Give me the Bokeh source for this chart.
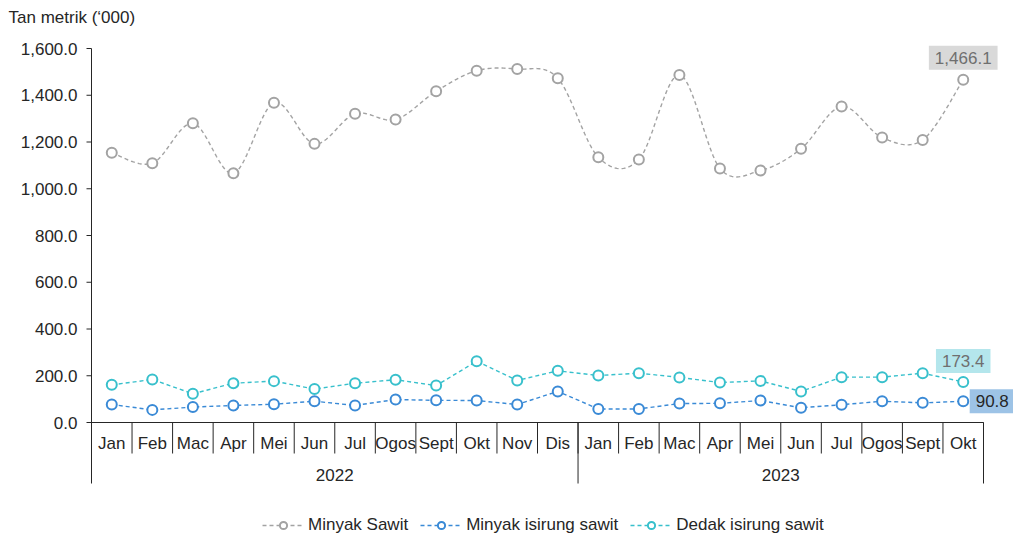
import numpy as np
from bokeh.plotting import figure
from bokeh.models import Range1d, Label, Legend, LegendItem
from bokeh.core.properties import value
from bokeh.embed import file_html
from bokeh.resources import INLINE

# ---------------- data ----------------
months = ["Jan", "Feb", "Mac", "Apr", "Mei", "Jun", "Jul", "Ogos", "Sept", "Okt", "Nov", "Dis",
          "Jan", "Feb", "Mac", "Apr", "Mei", "Jun", "Jul", "Ogos", "Sept", "Okt"]
years = ["2022", "2023"]
year_counts = [12, 10]
minyak_sawit = [1154, 1109, 1280, 1066, 1368, 1192, 1321, 1296, 1417, 1505, 1512, 1473,
                1135, 1125, 1487, 1087, 1078, 1171, 1352, 1219, 1209, 1466.1]
minyak_isirung = [77, 54, 66, 73, 78, 91, 73, 98, 95, 94, 77, 133,
                  58, 58, 81, 82, 94, 63, 76, 91, 84, 90.8]
dedak_isirung = [161, 184, 123, 168, 177, 143, 168, 183, 158, 262, 180, 221,
                 201, 211, 193, 171, 178, 133, 194, 194, 211, 173.4]
series_names = ["Minyak Sawit", "Minyak isirung sawit", "Dedak isirung sawit"]
y_ticks = [0, 200, 400, 600, 800, 1000, 1200, 1400, 1600]
y_title = "Tan metrik (\u2018000)"

# ---------------- styles / layout ----------------
FONT = "Liberation Sans"
FS = "17px"
GREY = "#a3a3a3"
BLUE = "#3a8ad6"
TEAL = "#38c0cc"
AXIS = "#262626"
TXT = "#262626"

W, H = 1013, 537
n = len(months)
X0_PX, XN_PX = 91, 983          # pixel of x=0 and x=n
Y0_PX, YT_PX = 422, 48          # pixel of y=0 and y=top tick
px_x = (XN_PX - X0_PX) / n
px_y = (Y0_PX - YT_PX) / y_ticks[-1]
x_start, x_end = -X0_PX / px_x, (W - X0_PX) / px_x
y_end, y_start = Y0_PX / px_y, -(H - Y0_PX) / px_y

def dx(px):
    return px / px_x

def dy(px):
    return px / px_y

p = figure(width=W, height=H, output_backend="svg", toolbar_location=None,
           x_range=Range1d(x_start, x_end), y_range=Range1d(y_start, y_end),
           x_axis_location=None, y_axis_location=None,
           min_border_left=0, min_border_right=0, min_border_top=0, min_border_bottom=0)
p.outline_line_color = None
p.xgrid.visible = False
p.ygrid.visible = False
p.background_fill_color = "white"
p.border_fill_color = "white"

xs = np.arange(n) + 0.5
ybot = -dy(61)

# y axis (line, ticks, labels)
p.segment(x0=[0], y0=[ybot], x1=[0], y1=[y_ticks[-1]], line_color=AXIS, line_width=1)
p.segment(x0=[-dx(5)] * len(y_ticks), y0=y_ticks, x1=[0] * len(y_ticks), y1=y_ticks,
          line_color=AXIS, line_width=1)
p.text(x=[-dx(14)] * len(y_ticks), y=y_ticks, text=["{:,.1f}".format(t) for t in y_ticks],
       text_font=value(FONT), text_font_size=FS, text_align="right", text_baseline="middle",
       text_color=TXT)

# x axis line and separators
p.segment(x0=[0], y0=[0], x1=[n], y1=[0], line_color=AXIS, line_width=1)
sep_x = list(range(1, n + 1))
p.segment(x0=sep_x, y0=[0] * len(sep_x), x1=sep_x, y1=[-dy(31)] * len(sep_x),
          line_color=AXIS, line_width=1)
ybounds = [int(v) for v in np.cumsum(year_counts)]
p.segment(x0=ybounds, y0=[0] * len(ybounds), x1=ybounds, y1=[ybot] * len(ybounds),
          line_color=AXIS, line_width=1)

# month labels
p.text(x=xs, y=[-dy(21)] * n, text=months, text_font=value(FONT), text_font_size=FS,
       text_align="center", text_baseline="middle", text_color=TXT)
# year labels
starts = np.concatenate([[0], np.cumsum(year_counts)[:-1]])
ycent = starts + np.array(year_counts) / 2.0
p.text(x=ycent, y=[-dy(52)] * len(years), text=years, text_font=value(FONT),
       text_font_size=FS, text_align="center", text_baseline="middle", text_color=TXT)

# unit title
p.text(x=[dx(8 - X0_PX)], y=[dy(Y0_PX - 17)], text=[y_title], text_font=value(FONT),
       text_font_size=FS, text_align="left", text_baseline="middle", text_color=TXT)

# smoothed line (Catmull-Rom / Bezier)
def smooth(xv, yv, steps=24):
    P = np.column_stack([np.asarray(xv, float), np.asarray(yv, float)])
    out = []
    for i in range(len(P) - 1):
        p0 = P[i - 1] if i > 0 else P[i]
        p1 = P[i]; p2 = P[i + 1]
        p3 = P[i + 2] if i + 2 < len(P) else P[i + 1]
        c1 = p1 + (p2 - p0) / 6.0
        c2 = p2 - (p3 - p1) / 6.0
        t = np.linspace(0, 1, steps, endpoint=(i == len(P) - 2))[:, None]
        seg = (1 - t) ** 3 * p1 + 3 * (1 - t) ** 2 * t * c1 + 3 * (1 - t) * t ** 2 * c2 + t ** 3 * p2
        out.append(seg)
    out = np.vstack(out)
    return out[:, 0], out[:, 1]

sx, sy = smooth(xs, minyak_sawit)
DASH = "4 3"
l1 = p.line(sx, sy, line_color=GREY, line_width=1.4, line_dash=DASH)
m1 = p.scatter(xs, minyak_sawit, size=10, line_color=GREY, line_width=2, fill_color="white")
l2 = p.line(xs, minyak_isirung, line_color=BLUE, line_width=1.4, line_dash=DASH)
m2 = p.scatter(xs, minyak_isirung, size=10, line_color=BLUE, line_width=2, fill_color="white")
l3 = p.line(xs, dedak_isirung, line_color=TEAL, line_width=1.4, line_dash=DASH)
m3 = p.scatter(xs, dedak_isirung, size=10, line_color=TEAL, line_width=2, fill_color="white")

# data labels on last point
def fmt(v):
    return "{:,.1f}".format(v)

last = n - 1
p.add_layout(Label(x=xs[last], y=minyak_sawit[last], y_offset=22, text=fmt(minyak_sawit[last]),
                   text_font=FONT, text_font_size=FS, text_color="#6f6f6f",
                   text_align="center", text_baseline="middle",
                   background_fill_color="#d9d9d9", padding=6))
p.add_layout(Label(x=xs[last], y=dedak_isirung[last], y_offset=21, text=fmt(dedak_isirung[last]),
                   text_font=FONT, text_font_size=FS, text_color="#6f6f6f",
                   text_align="center", text_baseline="middle",
                   background_fill_color="#b4e6ec", padding=6))
p.add_layout(Label(x=xs[last], y=minyak_isirung[last], x_offset=29, text=fmt(minyak_isirung[last]),
                   text_font=FONT, text_font_size=FS, text_color=TXT,
                   text_align="center", text_baseline="middle",
                   background_fill_color="#9dc3e6", padding=6))

legend = Legend(items=[LegendItem(label=series_names[0], renderers=[l1, m1]),
                       LegendItem(label=series_names[1], renderers=[l2, m2]),
                       LegendItem(label=series_names[2], renderers=[l3, m3])],
                orientation="horizontal", location=(262, 2),
                label_text_font=FONT, label_text_font_size=FS, label_text_color=TXT,
                glyph_width=42, glyph_height=18, label_standoff=4, spacing=12,
                label_height=20, padding=0, margin=0, border_line_color=None,
                background_fill_alpha=0)
p.add_layout(legend)

open("out.html", "w").write(file_html(p, INLINE))
